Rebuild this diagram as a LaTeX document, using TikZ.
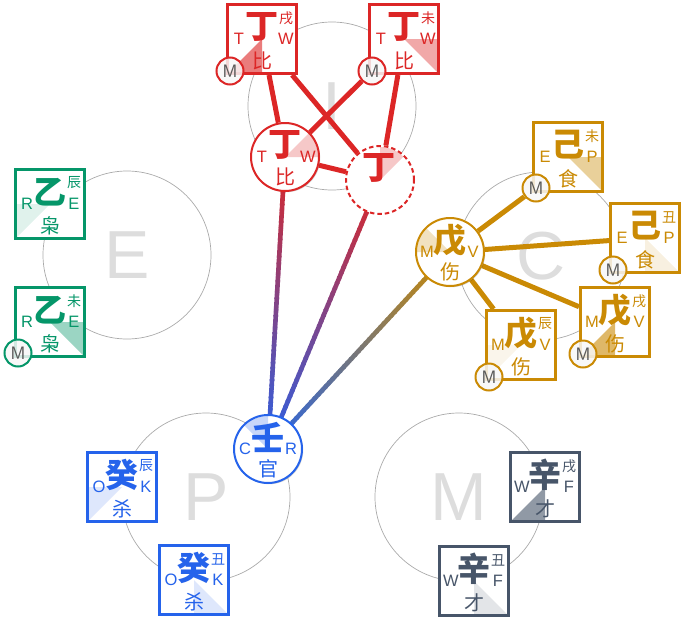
\documentclass[tikz,border=0pt]{standalone}
\usepackage{fontspec}
\setmainfont{Liberation Sans}
\newfontfamily\cjk{Noto Sans CJK SC}
\usetikzlibrary{calc, backgrounds, shadows}
\definecolor{redA}{HTML}{DC2626}
\definecolor{goldA}{HTML}{CA8A04}
\definecolor{greenA}{HTML}{059669}
\definecolor{blueA}{HTML}{2563EB}
\definecolor{slateA}{HTML}{475569}
\definecolor{orbitA}{HTML}{AAAAAA}
\definecolor{letterA}{HTML}{DDDDDD}

\begin{document}
\begin{tikzpicture}[x=1pt, y=-1pt,
    softshadow/.style={drop shadow={shadow xshift=1.2pt, shadow yshift=-1.2pt, opacity=.18, fill=black}},
    stembox/.style={rectangle, draw=#1, line width=3pt, fill=white, minimum size=69pt, inner sep=0pt, softshadow},
    stemcirc/.style={circle, draw=#1, line width=2pt, fill=white, minimum size=68pt, inner sep=0pt, softshadow},
    stemtext/.style={text=#1, inner sep=0pt, font=\cjk\bfseries\fontsize{33}{33}\selectfont},
    godtext/.style={text=#1, inner sep=0pt, font=\cjk\fontsize{20}{20}\selectfont},
    branchtext/.style={text=#1, inner sep=0pt, font=\cjk\fontsize{14}{14}\selectfont},
    qitext/.style={text=#1, inner sep=0pt, font=\fontsize{16.5}{16.5}\selectfont},
    badge/.style={circle, draw=#1, line width=2pt, fill=white!97!black, fill opacity=.85, text opacity=1,
      minimum size=27pt, inner sep=0pt, text=black!65, font=\sffamily\fontsize{18}{18}\selectfont},
    orbit/.style={circle, draw=orbitA, line width=.7pt, minimum size=168pt, inner sep=0pt},
    bigletter/.style={text=letterA, inner sep=0pt, font=\fontsize{68}{68}\selectfont},
    link/.style={draw=#1, line width=5pt}]
  \useasboundingbox (0,0) rectangle (688,624);

  % Stems in square boxes
  \foreach \nm/\x/\y/\col/\stem/\god/\ltr/\rtr/\branch/\ax/\ay/\bx/\by/\op in {
      dingXu/262/39/redA/丁/比/T/W/戌/-35/35/0/35/.6,
      dingWei/404/39/redA/丁/比/T/W/未/35/0/35/35/.4,
      jiWei/568/157/goldA/己/食/E/P/未/35/0/35/35/.4,
      jiChou/645/238/goldA/己/食/E/P/丑/0/35/35/35/.12,
      wuChen/521/345/goldA/戊/伤/M/V/辰/-35/0/-35/35/.08,
      wuXu/615/322/goldA/戊/伤/M/V/戌/-35/35/0/35/.6,
      yiChen/50/204/greenA/乙/枭/R/E/辰/-35/0/-35/35/.12,
      yiWei/50/322/greenA/乙/枭/R/E/未/35/0/35/35/.4,
      guiChen/122/487/blueA/癸/杀/O/K/辰/-35/0/-35/35/.15,
      guiChou/194/580/blueA/癸/杀/O/K/丑/0/35/35/35/.15,
      xinXu/545/487/slateA/辛/才/W/F/戌/-35/35/0/35/.6,
      xinChou/474/581/slateA/辛/才/W/F/丑/0/35/35/35/.15}{
    \node[stembox=\col] (\nm) at (\x,\y) {};
    \fill[\col, opacity=\op] (\nm.center) -- ([shift={(\ax,\ay)}]\nm.center) -- ([shift={(\bx,\by)}]\nm.center) -- cycle;
    \node[stemtext=\col] (\nm-stem) at ([shift={(0,-12)}]\nm.center) {\stem};
    \node[godtext=\col] (\nm-god) at ([shift={(0,22)}]\nm.center) {\god};
    \node[qitext=\col] (\nm-ltr) at ([shift={(-23,0)}]\nm.center) {\ltr};
    \node[qitext=\col] (\nm-rtr) at ([shift={(24,0)}]\nm.center) {\rtr};
    \node[branchtext=\col] (\nm-branch) at ([shift={(24,-21)}]\nm.center) {\branch};
  }

  % Stems in circles
  \foreach \nm/\x/\y/\col/\stem/\god/\ltr/\rtr/\ang in {
      cirDing/285/157/redA/丁/比/T/W/0,
      cirWu/450/252/goldA/戊/伤/M/V/135,
      cirRen/268/449/blueA/壬/官/C/R/90}{
    \node[stemcirc=\col] (\nm) at (\x,\y) {};
    \fill[\col, opacity=.25] (\nm.center) -- ++(\ang:33pt) arc[start angle=\ang, delta angle=45, radius=33pt] -- cycle;
    \node[stemtext=\col] (\nm-stem) at ([shift={(0,-12)}]\nm.center) {\stem};
    \node[godtext=\col] (\nm-god) at ([shift={(0,20)}]\nm.center) {\god};
    \node[qitext=\col] (\nm-ltr) at ([shift={(-23,0)}]\nm.center) {\ltr};
    \node[qitext=\col] (\nm-rtr) at ([shift={(23,0)}]\nm.center) {\rtr};
  }

  % The dashed one has no labels but its stem
  \node[circle, draw=redA, line width=2pt, dash pattern=on 4.5pt off 3pt, fill=white, minimum size=68pt, inner sep=0pt] (cirHidden) at (380,180) {};
  \fill[redA, opacity=.25] (cirHidden.center) -- ++(45:33pt) arc[start angle=45, delta angle=45, radius=33pt] -- cycle;
  \node[stemtext=redA] (cirHidden-stem) at ([shift={(-1,-12)}]cirHidden.center) {丁};

  % Badges on the box corners
  \foreach \nm/\x/\y/\col in {
      bdgDingXu/230/71/redA, bdgDingWei/372/71/redA,
      bdgJiWei/536/188/goldA, bdgJiChou/613/270/goldA,
      bdgWuChen/489/377/goldA, bdgWuXu/583/354/goldA,
      bdgYiWei/18/353/greenA}{
    \node[badge=\col] (\nm) at (\x,\y) {M};
  }

  \begin{scope}[on background layer]
    % Palace circles
    \foreach \nm/\x/\y/\txt in {palI/332/106/I, palE/127/255/E, palC/541/256/C, palP/206/497/P, palM/459/497/M}{
      \node[orbit] (\nm) at (\x,\y) {};
      \node[bigletter] (\nm-txt) at (\nm) {\txt};
    }
    % Straight links
    \draw[link=redA] (dingXu) -- (cirDing);
    \draw[link=redA] (dingXu) -- (cirHidden);
    \draw[link=redA] (bdgDingWei) -- (cirDing);
    \draw[link=redA] (dingWei) -- (cirHidden);
    \draw[link=redA] (cirDing) -- (cirHidden);
    \draw[link=goldA] (cirWu) -- (bdgJiWei);
    \draw[link=goldA] (cirWu) -- (jiChou);
    \draw[link=goldA] (cirWu) -- (wuChen);
    \draw[link=goldA] (cirWu) -- (wuXu);
    % Colour changes along the line
    \foreach \from/\col in {cirDing/redA, cirHidden/redA, cirWu/goldA}{
      \foreach \i in {0,...,49}{
        \pgfmathsetmacro{\pct}{\i*2}
        \pgfmathsetmacro{\tA}{\i/50}
        \pgfmathsetmacro{\tB}{(\i+1.3)/50}
        \draw[draw=blueA!\pct!\col, line width=4.6pt] ($(\from)!\tA!(cirRen)$) -- ($(\from)!\tB!(cirRen)$);
      }
    }
  \end{scope}
\end{tikzpicture}
\end{document}
